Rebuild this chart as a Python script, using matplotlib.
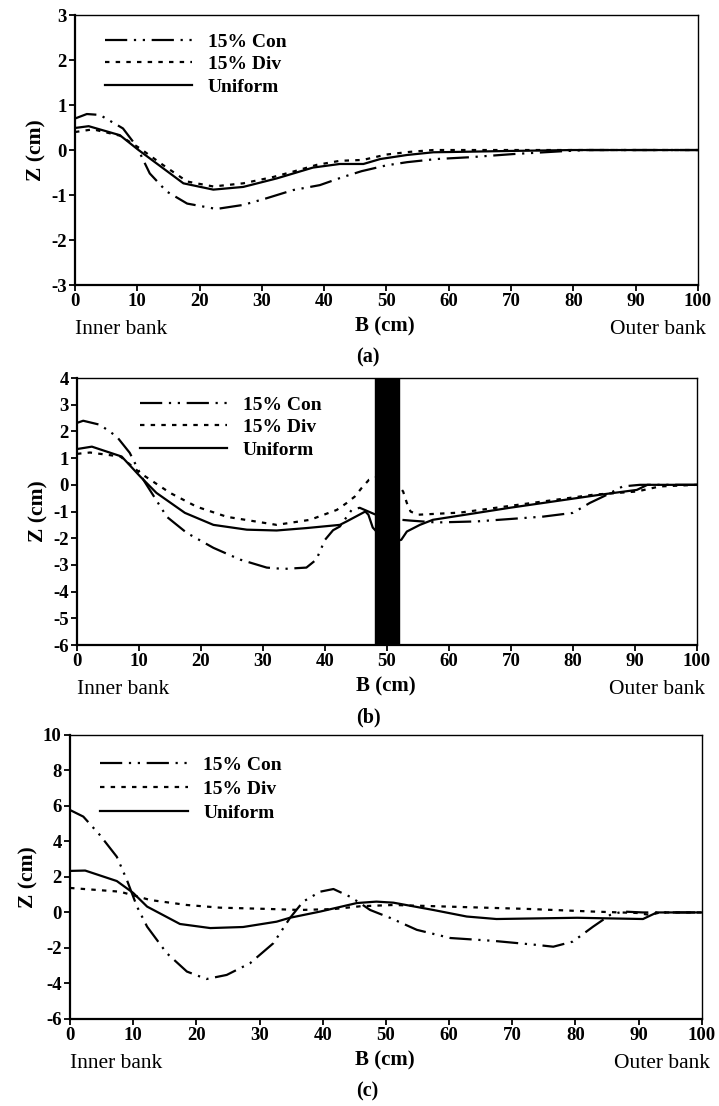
import matplotlib
matplotlib.use("Agg")
import matplotlib.pyplot as plt

plt.rcParams["font.family"] = ["Liberation Serif", "DejaVu Serif"]
plt.rcParams["axes.unicode_minus"] = False

# ---- data (B in cm, Z in cm) ----
labels = ["15% Con", "15% Div", "Uniform"]
x_ticks = list(range(0, 101, 10))

# panel (a)
a_B_con = [0, 1.9, 4, 7.7, 9.9, 12, 14.7, 18, 22.7, 27, 30.8, 35, 39.3, 43, 46, 50, 53.3, 58, 63.4, 70.3, 77.8, 82, 100]
a_Z_con = [0.70, 0.80, 0.78, 0.48, 0.08, -0.52, -0.92, -1.19, -1.31, -1.22, -1.07, -0.89, -0.78, -0.60, -0.47, -0.34, -0.27, -0.20, -0.16, -0.09, -0.03, 0, 0]
a_B_div = [0, 2.9, 7.2, 10.5, 14.1, 18, 22.2, 27, 31.8, 35, 38.8, 42.5, 46.2, 50, 53.8, 57.5, 100]
a_Z_div = [0.40, 0.46, 0.32, 0.03, -0.33, -0.70, -0.81, -0.74, -0.60, -0.48, -0.33, -0.24, -0.22, -0.10, -0.04, 0.0, 0.0]
a_B_uni = [0, 2.2, 7.2, 10.2, 17.4, 22.2, 27, 32.4, 38.2, 42.5, 46.3, 49, 53.3, 57.5, 62, 70, 80, 90, 100]
a_Z_uni = [0.49, 0.53, 0.33, 0.0, -0.74, -0.88, -0.82, -0.63, -0.39, -0.31, -0.31, -0.20, -0.11, -0.05, -0.04, -0.02, 0, 0, 0]
a_yticks = list(range(-3, 4, 1))

# panel (b)
b_B_con = [0, 1, 3.7, 6.4, 8.5, 10.7, 14.5, 17.7, 22, 26.3, 30.6, 33.3, 37, 38.6, 40, 41.3, 42.4, 44.3, 45.6, 47, 48, 52.3, 53.8, 58, 64.5, 75.2, 80, 82.7, 85.5, 88, 90.8, 100]
b_Z_con = [2.32, 2.40, 2.25, 1.81, 1.20, 0.19, -1.20, -1.80, -2.36, -2.80, -3.10, -3.15, -3.10, -2.80, -2.06, -1.70, -1.56, -0.94, -0.86, -1.0, -1.1, -1.31, -1.34, -1.41, -1.37, -1.19, -1.05, -0.68, -0.37, -0.06, 0, 0]
b_B_div = [0, 2.1, 7, 10.2, 15, 19.3, 24.2, 32.2, 37.6, 41.9, 43.5, 44.8, 45.9, 47.1, 48.5, 51.5, 52.6, 53.2, 53.8, 55, 61.8, 69.8, 83.3, 90.3, 94, 100]
b_Z_div = [1.16, 1.21, 1.06, 0.44, -0.30, -0.82, -1.20, -1.50, -1.31, -0.94, -0.68, -0.44, -0.12, 0.19, 0.3, 0.1, -0.25, -0.68, -1.0, -1.12, -1.04, -0.79, -0.37, -0.25, -0.06, 0]
b_B_uni = [0, 2.4, 7.2, 10.2, 12.8, 17.4, 22, 27.4, 32.2, 37, 42.4, 43.5, 46.5, 47, 47.7, 48.5, 51.5, 52.3, 53.2, 55.3, 57.4, 69.8, 84.4, 90.3, 92, 100]
b_Z_uni = [1.34, 1.43, 1.06, 0.31, -0.30, -1.05, -1.50, -1.68, -1.71, -1.62, -1.50, -1.37, -1.0, -1.12, -1.6, -1.8, -2.1, -2.06, -1.75, -1.5, -1.31, -0.86, -0.37, -0.19, 0, 0]
b_yticks = list(range(-6, 5, 1))
pier = (48, 52)

# panel (c)
c_B_con = [0, 2.1, 4.7, 7.4, 9, 10.6, 12.2, 15.3, 18.5, 21.6, 24.8, 28.5, 32.2, 34.8, 36.9, 39.6, 41.7, 44.3, 45.9, 47.5, 50.7, 54.9, 60.2, 67, 73.9, 76.5, 79.6, 82.8, 85.5, 87.5, 90.7, 100]
c_Z_con = [5.77, 5.4, 4.37, 3.14, 1.83, 0.33, -0.8, -2.29, -3.33, -3.75, -3.52, -2.86, -1.73, -0.32, 0.61, 1.17, 1.32, 0.89, 0.53, 0.14, -0.31, -0.98, -1.44, -1.6, -1.83, -1.93, -1.64, -0.8, -0.14, 0.05, 0, 0]
c_B_div = [0, 7.9, 12.7, 18.5, 23.7, 31.1, 36.4, 41.7, 46, 51.2, 61.7, 72.3, 82.8, 89.8, 91.8, 93.4, 100]
c_Z_div = [1.38, 1.17, 0.70, 0.42, 0.27, 0.20, 0.14, 0.19, 0.35, 0.42, 0.31, 0.20, 0.05, -0.03, -0.14, 0, 0]
c_B_uni = [0, 2.4, 7.4, 10, 12.2, 17.4, 22.2, 27.4, 32.7, 34.8, 39.6, 45.4, 48.5, 51.2, 57.5, 62.8, 67.5, 80.3, 90.7, 92.9, 100]
c_Z_uni = [2.34, 2.36, 1.77, 1.10, 0.33, -0.65, -0.88, -0.82, -0.52, -0.30, 0.05, 0.53, 0.61, 0.55, 0.14, -0.23, -0.37, -0.30, -0.37, 0, 0]
c_yticks = list(range(-6, 11, 2))

con_style = (0, (10, 3, 1, 3, 1, 3))
div_style = (0, (2, 2.8))


def draw_panel(ax, con, div, uni, yticks, caption, leg_anchor, leg_spacing, pier_span=None):
    ax.plot(con[0], con[1], color="black", lw=1.6, linestyle=con_style, label=labels[0])
    ax.plot(div[0], div[1], color="black", lw=1.6, linestyle=div_style, label=labels[1])
    ax.plot(uni[0], uni[1], color="black", lw=1.6, linestyle="-", label=labels[2])
    if pier_span is not None:
        ax.axvspan(pier_span[0], pier_span[1], color="black", zorder=5)
    ax.set_xlim(0, 100)
    ax.set_ylim(yticks[0], yticks[-1])
    ax.set_xticks(x_ticks)
    ax.set_yticks(yticks)
    ax.tick_params(direction="out", length=4, width=1.3, labelsize=13.5, pad=2)
    for lab in ax.get_xticklabels() + ax.get_yticklabels():
        lab.set_fontweight("bold")
    ax.spines["left"].set_linewidth(1.6)
    ax.spines["bottom"].set_linewidth(1.6)
    ax.spines["top"].set_linewidth(1.0)
    ax.spines["right"].set_linewidth(1.0)
    ax.set_ylabel("Z (cm)", fontsize=15.5, fontweight="bold", labelpad=3)
    ax.annotate("Inner bank", xy=(0, 0), xycoords="axes fraction", xytext=(0, -32),
                textcoords="offset points", ha="left", va="center", fontsize=15.5)
    ax.annotate("Outer bank", xy=(1, 0), xycoords="axes fraction", xytext=(6, -32),
                textcoords="offset points", ha="right", va="center", fontsize=15.5)
    ax.annotate("B (cm)", xy=(0.5, 0), xycoords="axes fraction", xytext=(-1, -30),
                textcoords="offset points", ha="center", va="center", fontsize=15, fontweight="bold")
    ax.annotate(caption, xy=(0.47, 0), xycoords="axes fraction", xytext=(0, -52),
                textcoords="offset points", ha="center", va="center", fontsize=14.5, fontweight="bold")
    ax.legend(loc="upper left", bbox_to_anchor=leg_anchor, frameon=False, borderpad=0,
              borderaxespad=0, handlelength=4.5, handletextpad=0.8, labelspacing=leg_spacing,
              prop={"weight": "bold", "size": 14})


fig = plt.figure(figsize=(7.19, 11.06), dpi=100)
ax_a = fig.add_axes([0.1043, 0.7423, 0.8665, 0.2441])
ax_b = fig.add_axes([0.1071, 0.4168, 0.8623, 0.2414])
ax_c = fig.add_axes([0.0974, 0.0787, 0.8786, 0.2568])

draw_panel(ax_a, (a_B_con, a_Z_con), (a_B_div, a_Z_div), (a_B_uni, a_Z_uni), a_yticks, "(a)", (0.048, 0.933), 0.25)
draw_panel(ax_b, (b_B_con, b_Z_con), (b_B_div, b_Z_div), (b_B_uni, b_Z_uni), b_yticks, "(b)", (0.1016, 0.932), 0.25, pier)
draw_panel(ax_c, (c_B_con, c_Z_con), (c_B_div, c_Z_div), (c_B_uni, c_Z_uni), c_yticks, "(c)", (0.0475, 0.925), 0.32)

fig.savefig("out.png", dpi=100)
